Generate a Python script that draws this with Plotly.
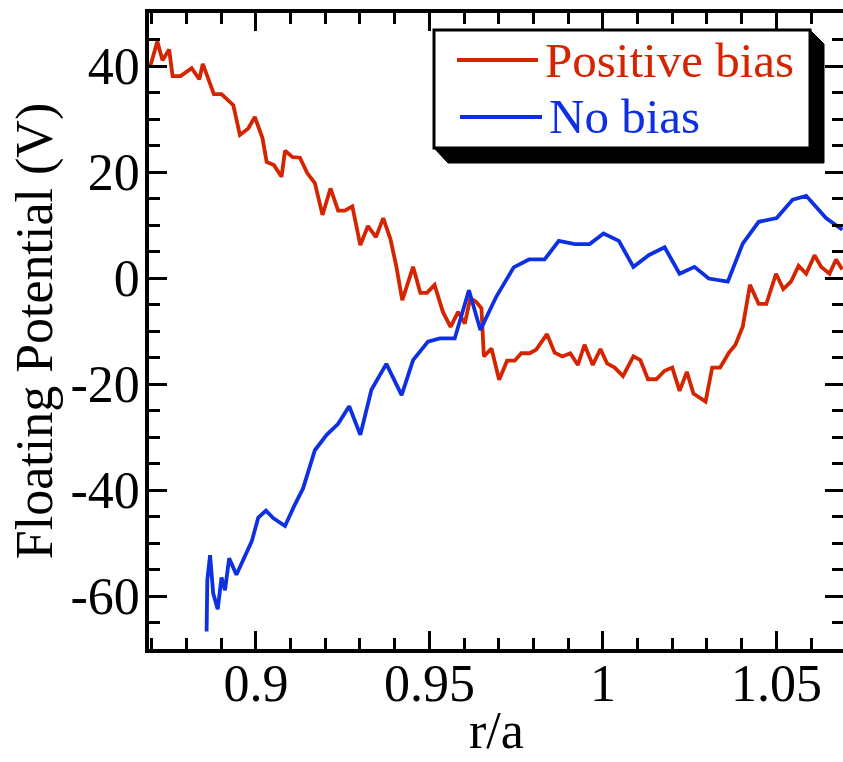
import plotly.graph_objects as go

# ---------------- data ----------------
pos_x = [0.8695, 0.8716, 0.8731, 0.8750, 0.8760, 0.8783, 0.8815, 0.8837, 0.8847, 0.8868,
         0.8879, 0.8901, 0.8935, 0.8954, 0.8978, 0.8997, 0.9019, 0.9031, 0.9052, 0.9074,
         0.9084, 0.9106, 0.9127, 0.9148, 0.9170, 0.9192, 0.9215, 0.9237, 0.9256, 0.9278,
         0.9301, 0.9323, 0.9346, 0.9367, 0.9388, 0.9405, 0.9422, 0.9453, 0.9474, 0.9493,
         0.9515, 0.9539, 0.9561, 0.9583, 0.9602, 0.9618, 0.9635, 0.9650, 0.9657, 0.9679,
         0.9701, 0.9724, 0.9746, 0.9765, 0.9789, 0.9808, 0.9839, 0.9861, 0.9883, 0.9906,
         0.9928, 0.9947, 0.9971, 0.9993, 1.0012, 1.0034, 1.0058, 1.0088, 1.0108, 1.0130,
         1.0154, 1.0178, 1.0200, 1.0221, 1.0242, 1.0261, 1.0296, 1.0315, 1.0338, 1.0363,
         1.0382, 1.0403, 1.0424, 1.0449, 1.0471, 1.0499, 1.0520, 1.0542, 1.0564, 1.0586,
         1.0610, 1.0629, 1.0653, 1.0672, 1.0690]
pos_y = [39.8, 44.6, 41.1, 43.1, 38.1, 38.1, 39.6, 37.5, 40.4, 36.4,
         34.7, 34.7, 32.6, 27.0, 28.2, 30.4, 26.4, 21.9, 21.3, 19.1,
         24.0, 22.8, 22.7, 19.8, 17.9, 11.9, 16.9, 12.7, 12.7, 13.5,
         6.2, 9.8, 7.7, 11.3, 7.3, 2.1, -4.2, 2.1, -2.8, -2.8,
         -1.3, -6.4, -9.2, -6.4, -8.6, -3.8, -4.5, -5.7, -14.8, -13.3,
         -19.2, -15.6, -15.6, -14.2, -14.2, -13.5, -10.6, -14.1, -14.8, -14.2,
         -16.4, -12.6, -16.4, -13.4, -16.1, -16.9, -18.5, -14.8, -15.5, -19.1,
         -19.1, -17.5, -16.9, -21.3, -17.7, -21.8, -23.3, -16.9, -16.9, -14.1,
         -12.6, -9.2, -1.3, -4.9, -4.9, 0.8, -2.1, -0.7, 2.3, 0.8,
         4.3, 2.1, 0.8, 3.5, 1.6]

nob_x = [0.8858, 0.8860, 0.8868, 0.8877, 0.8890, 0.8901, 0.8911, 0.8923, 0.8944, 0.8963,
         0.8988, 0.9007, 0.9029, 0.9050, 0.9084, 0.9112, 0.9136, 0.9170, 0.9204, 0.9237,
         0.9269, 0.9301, 0.9333, 0.9376, 0.9420, 0.9453, 0.9496, 0.9530, 0.9573, 0.9614,
         0.9647, 0.9693, 0.9743, 0.9787, 0.9832, 0.9873, 0.9919, 0.9962, 1.0002, 1.0046,
         1.0088, 1.0132, 1.0178, 1.0221, 1.0264, 1.0305, 1.0360, 1.0403, 1.0449, 1.0501,
         1.0547, 1.0586, 1.0643, 1.0690]
nob_y = [-66.7, -57.0, -52.3, -59.5, -62.5, -56.5, -58.9, -52.9, -56.0, -53.2,
         -49.7, -45.2, -43.9, -45.3, -46.8, -42.8, -39.7, -32.5, -29.6, -27.5,
         -24.2, -29.6, -21.1, -16.2, -22.1, -15.5, -12.0, -11.4, -11.4, -2.3,
         -9.8, -3.5, 2.0, 3.5, 3.5, 7.0, 6.4, 6.4, 8.4, 7.0,
         2.1, 4.3, 5.8, 0.8, 2.1, -0.1, -0.7, 6.5, 10.6, 11.3,
         14.8, 15.5, 11.3, 9.1]

series_names = ["Positive bias", "No bias"]
series_colors = ["#d42400", "#0c30e2"]

x_tickvals = [0.9, 0.95, 1.0, 1.05]
x_ticktext = ["0.9", "0.95", "1", "1.05"]
y_tickvals = [-60, -40, -20, 0, 20, 40]
y_ticktext = ["-60", "-40", "-20", "0", "20", "40"]
x_title = "r/a"
y_title = "Floating Potential (V)"

FONT = "Liberation Serif"
X_RANGE = [0.8692, 1.0692]
Y_RANGE = [-70, 50]

fig = go.Figure()
fig.add_trace(go.Scatter(x=pos_x, y=pos_y, mode="lines", name=series_names[0],
                         line=dict(color=series_colors[0], width=3.8), showlegend=False))
fig.add_trace(go.Scatter(x=nob_x, y=nob_y, mode="lines", name=series_names[1],
                         line=dict(color=series_colors[1], width=3.8), showlegend=False))
# empty trace so that the mirrored (top / right) tick axes get drawn
fig.add_trace(go.Scatter(x=[], y=[], xaxis="x2", yaxis="y2", mode="lines",
                         showlegend=False, hoverinfo="skip"))

tick_style = dict(ticks="inside", ticklen=18, tickwidth=3, tickcolor="black",
                  showgrid=False, zeroline=False, automargin=False)
x_minor = dict(ticks="inside", ticklen=11, tickwidth=3, tickcolor="black", dtick=0.01, tick0=0.9)
y_minor = dict(ticks="inside", ticklen=11, tickwidth=3, tickcolor="black", dtick=5, tick0=0)

fig.update_layout(
    xaxis=dict(range=X_RANGE, tickmode="array", tickvals=x_tickvals, ticktext=x_ticktext,
               minor=x_minor, showline=True, linecolor="black", linewidth=3.5, mirror=True,
               tickfont=dict(family=FONT, size=52, color="black"),
               ticklabelstandoff=-14, **tick_style),
    yaxis=dict(range=Y_RANGE, tickmode="array", tickvals=y_tickvals, ticktext=y_ticktext,
               minor=y_minor, showline=True, linecolor="black", linewidth=3.5, mirror=True,
               tickfont=dict(family=FONT, size=52, color="black"),
               title=dict(text=y_title, font=dict(family=FONT, size=52, color="black"), standoff=2),
               ticklabelstandoff=-5, **tick_style),
    # overlay axes: mirrored inside ticks on top and right
    xaxis2=dict(range=X_RANGE, overlaying="x", side="top", anchor="y2", tickmode="array",
                tickvals=x_tickvals, showticklabels=False, minor=x_minor, **tick_style),
    yaxis2=dict(range=Y_RANGE, overlaying="y", side="right", anchor="x2", tickmode="array",
                tickvals=y_tickvals, showticklabels=False, minor=y_minor, **tick_style),
)

# x-axis title placed as annotation under the tick labels
fig.add_annotation(x=0.5, y=0, xref="paper", yref="paper", yanchor="bottom", yshift=-112,
                   text=x_title, showarrow=False,
                   font=dict(family=FONT, size=52, color="black"))

# ---- custom legend (box with shadow) ----
def px_x(p):
    return (p - 149) / 694.0

def px_y(p):
    return (649 - p) / 636.0

shadow_path = ("M {a},{b} L {c},{d} L {c},{e} L {f},{e} L {g},{h} Z").format(
    a=px_x(810), b=px_y(30), c=px_x(824), d=px_y(44), e=px_y(163),
    f=px_x(448), g=px_x(434), h=px_y(148))
fig.add_shape(type="path", path=shadow_path, xref="paper", yref="paper",
              fillcolor="black", line=dict(color="black", width=1), layer="above")
fig.add_shape(type="rect", xref="paper", yref="paper",
              x0=px_x(434), x1=px_x(810), y0=px_y(148), y1=px_y(30),
              fillcolor="white", line=dict(color="black", width=3), layer="above")

legend_rows = [(60, 457, 538, 543), (117, 460, 542, 547)]
for (ly, lx0, lx1, tx), name, col in zip(legend_rows, series_names, series_colors):
    fig.add_shape(type="line", xref="paper", yref="paper",
                  x0=px_x(lx0), x1=px_x(lx1), y0=px_y(ly), y1=px_y(ly),
                  line=dict(color=col, width=3.8), layer="above")
    fig.add_annotation(x=px_x(tx), y=px_y(ly), xref="paper", yref="paper",
                       text=name, showarrow=False, xanchor="left", yanchor="middle",
                       font=dict(family=FONT, size=49, color=col))

fig.update_layout(
    width=843, height=762,
    margin=dict(l=149, r=0, t=13, b=113),
    plot_bgcolor="white", paper_bgcolor="white",
)

fig.write_html("out.html")
